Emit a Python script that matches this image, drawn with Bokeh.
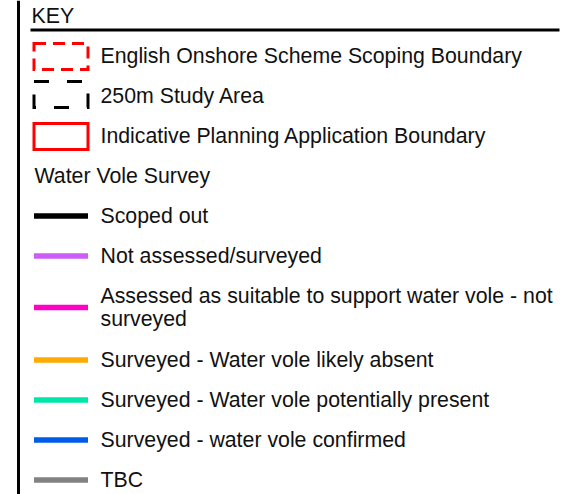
from bokeh.plotting import figure
from bokeh.models import Range1d
from bokeh.core.properties import value
from bokeh.embed import file_html
from bokeh.resources import INLINE

# ---- data ----
key_title = "KEY"
boundary_labels = [
    "English Onshore Scheme Scoping Boundary",
    "250m Study Area",
    "Indicative Planning Application Boundary",
]
boundary_colors = ["#FF0000", "#000000", "#FF0000"]
boundary_dashes = ["12 7", "15 18", "solid"]

survey_heading = "Water Vole Survey"
survey_labels = [
    "Scoped out",
    "Not assessed/surveyed",
    "Assessed as suitable to support water vole - not\nsurveyed",
    "Surveyed - Water vole likely absent",
    "Surveyed - Water vole potentially present",
    "Surveyed - water vole confirmed",
    "TBC",
]
survey_colors = ["#000000", "#CC5CF5", "#FF00C5", "#FFAA00", "#00E6A9", "#005CE6", "#828282"]

FONT = value("Liberation Sans")
FS = "21.3px"
TXT = "#111111"
W, H = 568, 494
TDY = -8  # text baseline correction

p = figure(width=W, height=H, output_backend="svg", toolbar_location=None,
           x_range=Range1d(0, W), y_range=Range1d(H, 0),
           min_border=0, outline_line_color=None)
p.axis.visible = False
p.grid.visible = False

# frame lines
p.segment(x0=[18], y0=[0], x1=[18], y1=[H], line_color="#000000", line_width=3)
p.segment(x0=[30], y0=[29.5], x1=[559], y1=[29.5], line_color="#000000", line_width=3)
p.text(x=[31], y=[23 + TDY], text=[key_title], text_font=FONT, text_font_size=FS,
       text_baseline="alphabetic", text_color=TXT)

row = 40
lx0, lx1, tx = 33.5, 87.5, 100
# boundary rows
for i, (lab, col, dash) in enumerate(zip(boundary_labels, boundary_colors, boundary_dashes)):
    base = 63 + i * row
    cy = 56 + i * row - (2 if i == 1 else 0)
    p.rect(x=[(lx0 + lx1) / 2], y=[cy], width=lx1 - lx0, height=26,
           fill_color=None, line_color=col, line_width=3, line_dash=dash,
           line_join="miter")
    p.text(x=[tx], y=[base + TDY], text=[lab], text_font=FONT, text_font_size=FS,
           text_baseline="alphabetic", text_color=TXT)

# heading
hbase = 63 + 3 * row
p.text(x=[34], y=[hbase + TDY], text=[survey_heading], text_font=FONT, text_font_size=FS,
       text_baseline="alphabetic", text_color=TXT)

# survey rows
base = hbase + row
line_gap = 23
for lab, col in zip(survey_labels, survey_colors):
    lines = lab.split("\n")
    n = len(lines)
    ly = base + (n - 1) * line_gap / 2 - 7.5
    p.segment(x0=[lx0], y0=[ly], x1=[lx1], y1=[ly], line_color=col, line_width=5.5,
              line_cap="butt")
    for k, t in enumerate(lines):
        p.text(x=[tx], y=[base + k * line_gap + TDY], text=[t], text_font=FONT,
               text_font_size=FS, text_baseline="alphabetic", text_color=TXT)
    base += row + (n - 1) * (line_gap + 1)

open("out.html", "w").write(file_html(p, INLINE))
